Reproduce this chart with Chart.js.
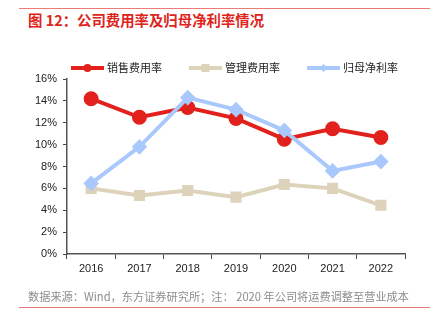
<!DOCTYPE html>
<html>
<head>
<meta charset="utf-8">
<script src="https://cdn.jsdelivr.net/npm/chart.js@4.4.0/dist/chart.umd.min.js"></script>
<style>
  html, body { margin: 0; padding: 0; background: #fff; }
  #wrap { position: relative; width: 439px; height: 324px; overflow: hidden; }
  #grafico { position: absolute; left: 0; top: 0; }
  .linea { position: absolute; left: 19px; width: 411px; height: 1px; background: #ee7b76; }
  #titulo { position: absolute; left: 28px; top: 11px; font: bold 14.4px "Noto Sans CJK SC", sans-serif; color: #e0241c; white-space: nowrap; line-height: 18px; }
  #fuente { position: absolute; left: 28px; top: 289px; font: 11.2px "Noto Sans CJK SC", sans-serif; color: #8c8c8c; white-space: nowrap; line-height: 14px; }
</style>
</head>
<body>
<div id="wrap">
  <div class="linea" style="top:8px"></div>
  <div id="titulo">图 12：公司费用率及归母净利率情况</div>
  <canvas id="grafico" width="439" height="324"></canvas>
  <div id="fuente">数据来源：Wind，东方证券研究所；注： 2020 年公司将运费调整至营业成本</div>
  <div class="linea" style="top:307px"></div>
</div>
<script>
// datos (%)
const anios = ['2016', '2017', '2018', '2019', '2020', '2021', '2022'];
const ventas = [14.2, 12.5, 13.4, 12.4, 10.5, 11.45, 10.65];
const gestion = [6.0, 5.35, 5.8, 5.2, 6.35, 6.0, 4.45];
const netoMatriz = [6.45, 9.8, 14.3, 13.2, 11.3, 7.6, 8.45];
const nombres = ['销售费用率', '管理费用率', '归母净利率'];
const ticksY = [0, 2, 4, 6, 8, 10, 12, 14, 16];

const colores = ['#e3211c', '#ddd3bb', '#a9c8fb'];
const marcas = ['circle', 'rect', 'rectRot'];

// leyenda propia: línea con marcador en el centro
const leyendaPlugin = {
  id: 'leyenda',
  afterDraw(chart) {
    const ctx = chart.ctx;
    const posX = [71, 189, 307];
    const y = 68;
    ctx.save();
    chart.data.datasets.forEach((ds, i) => {
      const x0 = posX[i];
      ctx.strokeStyle = ds.borderColor;
      ctx.lineWidth = 4;
      ctx.beginPath();
      ctx.moveTo(x0, y);
      ctx.lineTo(x0 + 33, y);
      ctx.stroke();
      ctx.fillStyle = ds.borderColor;
      const cx = x0 + 16.5;
      if (i === 0) {
        ctx.beginPath(); ctx.arc(cx, y, 4, 0, Math.PI * 2); ctx.fill();
      } else if (i === 1) {
        ctx.fillRect(cx - 4, y - 4, 8, 8);
      } else {
        ctx.beginPath();
        ctx.moveTo(cx, y - 4); ctx.lineTo(cx + 4, y); ctx.lineTo(cx, y + 4); ctx.lineTo(cx - 4, y);
        ctx.closePath(); ctx.fill();
      }
      ctx.fillStyle = '#222';
      ctx.font = '11px "Noto Sans CJK SC", sans-serif';
      ctx.textBaseline = 'middle';
      ctx.textAlign = 'left';
      ctx.fillText(ds.label, x0 + 36, y);
    });
    ctx.restore();
  }
};

const series = [ventas, gestion, netoMatriz];

new Chart(document.getElementById('grafico'), {
  type: 'line',
  data: {
    labels: anios,
    datasets: series.map((d, i) => ({
      label: nombres[i],
      data: d,
      borderColor: colores[i],
      backgroundColor: colores[i],
      borderWidth: 4,
      pointStyle: marcas[i],
      pointRadius: i === 0 ? 5.5 : 5,
      pointHoverRadius: 5,
      tension: 0,
      order: 3 - i
    }))
  },
  options: {
    responsive: false,
    animation: false,
    layout: { padding: { left: 0, right: 34, top: 79, bottom: 0 } },
    plugins: { legend: { display: false }, tooltip: { enabled: false } },
    scales: {
      x: {
        offset: true,
        afterFit: s => { s.height = 70; },
        grid: { offset: true, drawOnChartArea: false, drawTicks: true, tickLength: 5, color: '#444', lineWidth: 1 },
        border: { color: '#555', width: 1.5 },
        ticks: { color: '#222', font: { family: 'Liberation Sans', size: 11 }, padding: 3, maxRotation: 0 }
      },
      y: {
        min: 0, max: 16,
        afterFit: s => { s.width = 67; },
        afterBuildTicks: s => { s.ticks = ticksY.map(v => ({ value: v })); },
        grid: { drawOnChartArea: false, drawTicks: true, tickLength: 4, color: '#444', lineWidth: 1 },
        border: { color: '#555', width: 1.5 },
        ticks: { color: '#222', font: { family: 'Liberation Sans', size: 11 }, padding: 6, callback: v => v + '%' }
      }
    }
  },
  plugins: [leyendaPlugin]
});
</script>
</body>
</html>
